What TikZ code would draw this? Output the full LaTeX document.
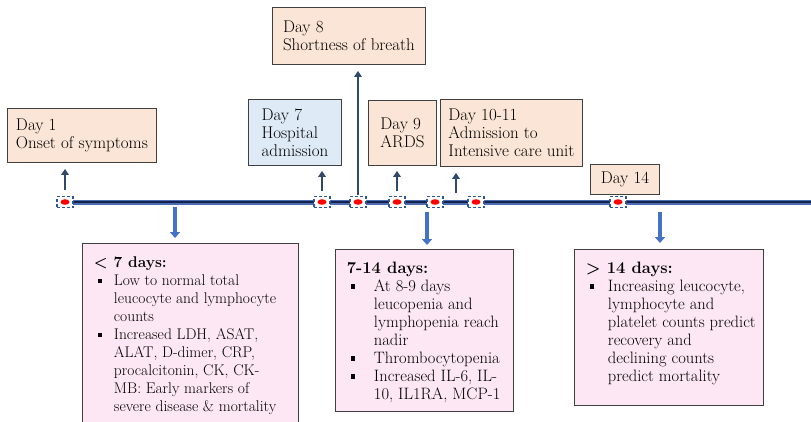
\documentclass[tikz,border=0pt]{standalone}
\usepackage{fontspec}
\usepackage{tikz}
\usetikzlibrary{arrows.meta,positioning,calc}

\definecolor{peach}{HTML}{FBE5D6}
\definecolor{paleblue}{HTML}{DEEBF7}
\definecolor{palepink}{HTML}{FDE7F4}
\definecolor{boxline}{HTML}{404040}
\definecolor{upcol}{HTML}{2E4A68}
\definecolor{downcol}{HTML}{4472C4}
\definecolor{handle}{HTML}{2F5597}
\definecolor{tlouter}{HTML}{4A6DB5}
\definecolor{tlcore}{HTML}{15234A}

\newcommand{\bul}[1]{\makebox[#1][l]{\hspace{4pt}\rule[0.3ex]{4.5pt}{4.5pt}}}
\newcommand{\ind}[1]{\hspace*{#1}}
\newcommand{\lines}[3]{\parbox[t][#1][t]{#2}{\begin{tabular}[t]{@{}l@{}}#3\end{tabular}}}

\tikzset{
  topbox/.style={draw=boxline, line width=0.9pt, fill=peach, inner sep=0pt,
    align=left, anchor=north west, font=\fontsize{17}{18}\selectfont},
  lowbox/.style={draw=boxline, line width=0.9pt, fill=palepink, inner xsep=11.5pt, inner ysep=11pt,
    anchor=north west, font=\fontsize{16.5}{18}\selectfont},
  marker/.style={draw=handle, line width=1.1pt, dash pattern=on 3pt off 2pt, minimum width=16pt,
    minimum height=11pt, inner sep=0pt, fill=white,
    path picture={\fill[red] (path picture bounding box.center) ellipse (4.5pt and 2.8pt);}},
  uparrow/.style={-{Triangle[width=7.5pt,length=6pt]}, line width=2.6pt, draw=upcol,
    shorten <=5pt, shorten >=5pt},
  downarrow/.style={-{Triangle[width=10pt,length=6pt]}, line width=4.5pt, draw=downcol,
    shorten <=5pt, shorten >=5pt}
}

\begin{document}
\begin{tikzpicture}[x=1pt, y=-1pt]
\clip (0,0) rectangle (811,421);

\coordinate (tlstart) at (65,202);
\coordinate (tlend) at (811,202);
\draw[line width=5pt, tlouter] (tlstart) -- (tlend);
\draw[line width=2.8pt, tlcore] (tlstart) -- (tlend);

\foreach \n/\x in {1/65,7/322,8/358,9/397,10/435,11/476,14/618}
  \node[marker] (m\n) at (\x,202) {};

% events above the line
\node[topbox, minimum width=149pt, minimum height=54pt] (day1) at (7,108) {Day 1\\Onset of symptoms};
\node[topbox, fill=paleblue, minimum width=93pt, minimum height=66pt] (day7) at (248,99) {Day 7\\Hospital\\admission};
\node[topbox, minimum width=153pt, minimum height=57pt] (day8) at (272,7) {Day 8\\Shortness of breath};
\node[topbox, minimum width=68pt, minimum height=65pt] (day9) at (368,100) {Day 9\\ARDS};
\node[topbox, minimum width=142pt, minimum height=67pt] (day10) at (440,99) {Day 10-11\\Admission to\\Intensive care unit};
\node[topbox, minimum width=69pt, minimum height=30pt] (day14) at (590,164) {Day 14};

\draw[uparrow, shorten <=6pt, shorten >=6pt] (m1.north) -- (day1.south -| m1);
\draw[uparrow] (m7.north) -- (day7.south -| m7);
\draw[uparrow, shorten <=1pt, shorten >=6pt] (m8.north) -- (day8.south -| m8);
\draw[uparrow] (m9.north) -- (day9.south -| m9);
\coordinate (a10) at (456,193);
\draw[uparrow, shorten <=0pt, shorten >=6pt] (a10) -- (a10 |- day10.south);

% lab findings below the line
\node[lowbox, font=\fontsize{15.5}{18}\selectfont] (early) at (82,243) {\lines{165pt}{193pt}{%
  \textbf{< 7 days:}\\
  \bul{20pt}Low to normal total\\
  \ind{20pt}leucocyte and lymphocyte\\
  \ind{20pt}counts\\
  \bul{20pt}Increased LDH, ASAT,\\
  \ind{20pt}ALAT, D-dimer, CRP,\\
  \ind{20pt}procalcitonin, CK, CK-\\
  \ind{20pt}MB: Early markers of\\
  \ind{20pt}severe disease \& mortality}};
\node[lowbox] (mid) at (335,249) {\lines{140pt}{155pt}{%
  \textbf{7-14 days:}\\
  \bul{27pt}At 8-9 days\\
  \ind{27pt}leucopenia and\\
  \ind{27pt}lymphopenia reach\\
  \ind{27pt}nadir\\
  \bul{27pt}Thrombocytopenia\\
  \bul{27pt}Increased IL-6, IL-\\
  \ind{27pt}10, IL1RA, MCP-1}};
\node[lowbox] (late) at (574,249) {\lines{134pt}{166pt}{%
  \textbf{> 14 days:}\\
  \bul{22pt}Increasing leucocyte,\\
  \ind{22pt}lymphocyte and\\
  \ind{22pt}platelet counts predict\\
  \ind{22pt}recovery and\\
  \ind{22pt}declining counts\\
  \ind{22pt}predict mortality}};

\coordinate (d1) at (175,202);
\coordinate (d2) at (427,202);
\coordinate (d3) at (660,202);
\draw[downarrow] (d1) -- (d1 |- early.north);
\draw[downarrow, shorten <=10pt, shorten >=4pt] (d2) -- (d2 |- mid.north);
\draw[downarrow, shorten <=10pt, shorten >=6pt] (d3) -- (d3 |- late.north);
\end{tikzpicture}
\end{document}
